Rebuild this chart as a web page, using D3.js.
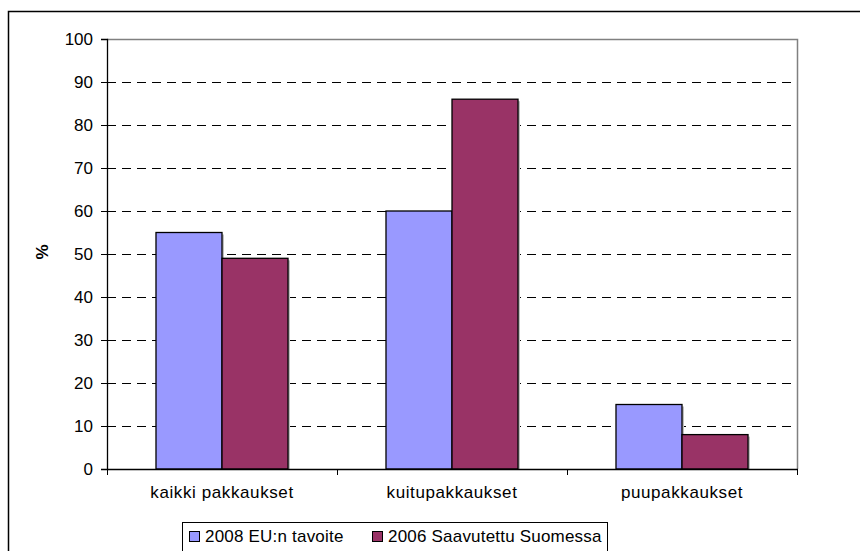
<!DOCTYPE html>
<html>
<head>
<meta charset="utf-8">
<script src="https://cdn.jsdelivr.net/npm/d3@7"></script>
<style>
  body { margin: 0; background: #fff; }
  svg text { font-family: Arial, "Liberation Sans", sans-serif; fill: #000; }
</style>
</head>
<body>
<div id="chart"></div>
<script>
// chart data
const categories = ["kaikki pakkaukset", "kuitupakkaukset", "puupakkaukset"];
const seriesNames = ["2008 EU:n tavoite", "2006 Saavutettu Suomessa"];
const target2008 = [55, 60, 15];
const achieved2006 = [49, 86, 8];
const yTicks = [0, 10, 20, 30, 40, 50, 60, 70, 80, 90, 100];
const colors = ["#9999ff", "#993366"];

const width = 860, height = 551;
const plot = { left: 107, right: 797, top: 39, bottom: 469 };
const fontSize = 17;

const svg = d3.select("#chart").append("svg")
    .attr("width", width)
    .attr("height", height);

// outer chart frame (runs off the picture on the right and bottom)
svg.append("rect")
    .attr("x", 8.5).attr("y", 11.5)
    .attr("width", 900).attr("height", 600)
    .attr("fill", "none")
    .attr("stroke", "#000")
    .attr("stroke-width", 1.5);

const x = d3.scaleBand()
    .domain(categories)
    .range([plot.left, plot.right])
    .paddingInner(0.426)
    .paddingOuter(0.213);

const xSeries = d3.scaleBand()
    .domain(seriesNames)
    .range([0, x.bandwidth()]);

const y = d3.scaleLinear()
    .domain([0, 100])
    .range([plot.bottom, plot.top]);

// dashed gridlines
svg.append("g")
    .selectAll("line")
    .data(yTicks.filter(d => d > 0 && d < 100))
    .join("line")
    .attr("x1", plot.left).attr("x2", plot.right)
    .attr("y1", d => Math.round(y(d)) + 0.5)
    .attr("y2", d => Math.round(y(d)) + 0.5)
    .attr("stroke", "#000")
    .attr("stroke-dasharray", "9,6");

// gray top/right plot border
svg.append("path")
    .attr("d", `M${plot.left},${plot.top + 0.5}H${plot.right + 0.5}V${plot.bottom}`)
    .attr("fill", "none")
    .attr("stroke", "#808080")
    .attr("stroke-width", 1.5);

// bars
const rows = categories.map((c, i) => ({ cat: c, values: [target2008[i], achieved2006[i]] }));

const groups = svg.append("g")
    .selectAll("g")
    .data(rows)
    .join("g")
    .attr("transform", d => `translate(${x(d.cat)},0)`);

// faint shadow on the right of each bar
groups.selectAll("rect.shadow")
    .data(d => d.values.map((v, j) => ({ name: seriesNames[j], value: v, j })))
    .join("rect")
    .attr("class", "shadow")
    .attr("x", d => xSeries(d.name) + 2)
    .attr("y", d => y(d.value) + 2)
    .attr("width", xSeries.bandwidth())
    .attr("height", d => plot.bottom - y(d.value) - 2)
    .attr("fill", "#c0c0c0");

groups.selectAll("rect.bar")
    .data(d => d.values.map((v, j) => ({ name: seriesNames[j], value: v, j })))
    .join("rect")
    .attr("class", "bar")
    .attr("x", d => xSeries(d.name))
    .attr("y", d => y(d.value))
    .attr("width", xSeries.bandwidth())
    .attr("height", d => plot.bottom - y(d.value))
    .attr("fill", d => colors[d.j])
    .attr("stroke", "#000")
    .attr("stroke-width", 1.3);

// y axis
const yAxis = svg.append("g")
    .attr("transform", `translate(${plot.left},0)`)
    .call(d3.axisLeft(y).tickValues(yTicks).tickSize(6).tickPadding(8));
yAxis.select(".domain").attr("stroke", "#000").attr("stroke-width", 1.3);
yAxis.selectAll(".tick line").attr("stroke", "#000");
yAxis.selectAll(".tick text")
    .attr("font-size", fontSize)
    .attr("font-family", "Arial, 'Liberation Sans', sans-serif")
    .attr("fill", "#000");

// x axis: ticks between categories
const bounds = d3.range(categories.length + 1).map(i => plot.left + i * x.step());
svg.append("line")
    .attr("x1", plot.left).attr("x2", plot.right + 1)
    .attr("y1", plot.bottom + 0.5).attr("y2", plot.bottom + 0.5)
    .attr("stroke", "#000").attr("stroke-width", 1.3);
svg.append("g")
    .selectAll("line")
    .data(bounds)
    .join("line")
    .attr("x1", d => d + 0.5).attr("x2", d => d + 0.5)
    .attr("y1", plot.bottom).attr("y2", plot.bottom + 6)
    .attr("stroke", "#000");

svg.append("g")
    .selectAll("text")
    .data(categories)
    .join("text")
    .attr("x", d => x(d) + x.bandwidth() / 2)
    .attr("y", 498)
    .attr("text-anchor", "middle")
    .attr("font-size", fontSize)
    .attr("letter-spacing", "0.6px")
    .text(d => d);

// y axis title
svg.append("text")
    .attr("transform", "translate(48,252) rotate(-90)")
    .attr("text-anchor", "middle")
    .attr("font-size", fontSize)
    .attr("font-weight", "bold")
    .text("%");

// legend
const legend = svg.append("g");
legend.append("rect")
    .attr("x", 182.5).attr("y", 522.5)
    .attr("width", 425).attr("height", 60)
    .attr("fill", "#fff")
    .attr("stroke", "#000");

const legendX = [189, 372];
const items = legend.selectAll("g")
    .data(seriesNames)
    .join("g")
    .attr("transform", (d, i) => `translate(${legendX[i]},531)`);
items.append("rect")
    .attr("x", 0.5).attr("y", 0.5)
    .attr("width", 10).attr("height", 10)
    .attr("fill", (d, i) => colors[i])
    .attr("stroke", "#000");
items.append("text")
    .attr("x", 16).attr("y", 11)
    .attr("font-size", fontSize)
    .attr("letter-spacing", "0.2px")
    .text(d => d);
</script>
</body>
</html>
